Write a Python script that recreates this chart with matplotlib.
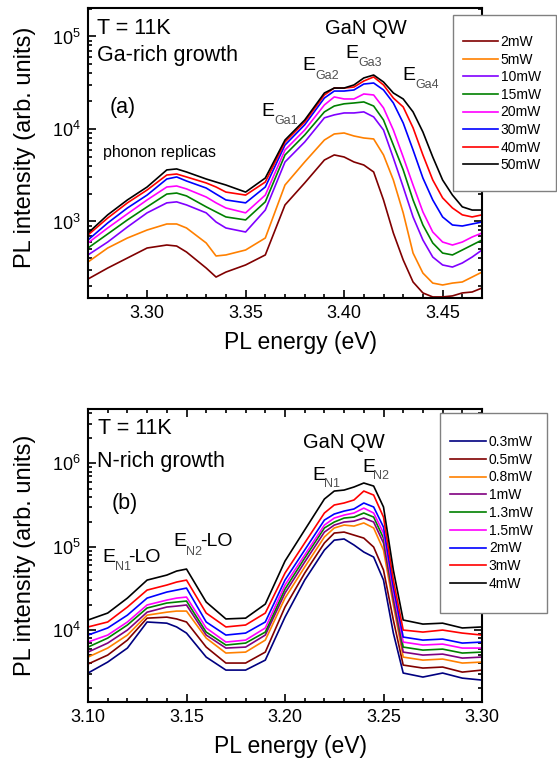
import matplotlib.pyplot as plt
from matplotlib.patches import Rectangle
from matplotlib.ticker import MultipleLocator, FormatStrFormatter, LogLocator, NullFormatter

plt.rcParams['font.family'] = ['Liberation Sans', 'DejaVu Sans']
plt.rcParams['mathtext.fontset'] = 'custom'
plt.rcParams['mathtext.rm'] = 'Liberation Sans'
plt.rcParams['mathtext.default'] = 'regular'

W, H = 557, 764

# ---------------- (a) Ga-rich growth ----------------
energy_a = [3.270, 3.280, 3.290, 3.300, 3.310, 3.315, 3.320, 3.330, 3.335, 3.340,
            3.350, 3.360, 3.370, 3.380, 3.390, 3.395, 3.400, 3.405, 3.410, 3.415,
            3.420, 3.425, 3.430, 3.435, 3.440, 3.445, 3.450, 3.455, 3.460, 3.465, 3.470]

ga_2mW = [239, 314, 403, 517, 557, 543, 468, 314, 251, 284, 339, 435, 1510, 2610, 4620, 5240,
          4980, 4400, 4080, 3430, 1710, 751, 384, 222, 169, 153, 153, 157, 169, 173, 191]
ga_5mW = [365, 517, 663, 809, 940, 940, 851, 586, 424, 435, 492, 663, 2480, 4400, 7600, 8830,
          9050, 8400, 7990, 7800, 5240, 2810, 1240, 456, 277, 216, 206, 216, 222, 251, 284]
ga_10mW = [435, 600, 872, 1240, 1590, 1630, 1510, 1240, 988, 851, 770, 1330, 4400, 7230, 13200, 14200,
           14900, 14900, 15300, 13500, 9750, 4860, 2360, 1120, 631, 413, 339, 322, 356, 413, 492]
ga_15mW = [517, 733, 1040, 1440, 1980, 2030, 1890, 1440, 1270, 1120, 1040, 1630, 5240, 8610, 15300, 17700,
           18700, 19100, 19600, 17700, 12500, 6710, 3610, 1710, 917, 586, 456, 435, 492, 557, 631]
ga_20mW = [586, 851, 1210, 1710, 2360, 2420, 2250, 1840, 1590, 1400, 1240, 1930, 5930, 9750, 18200, 22200,
           21100, 21100, 23900, 23300, 16900, 9750, 4980, 2480, 1270, 770, 600, 557, 600, 680, 751]
ga_30mW = [631, 964, 1400, 1930, 2880, 3030, 2740, 2300, 1980, 1710, 1590, 2360, 6710, 11100, 21600, 25700,
           25700, 26400, 30600, 31400, 26400, 19100, 11600, 5930, 2950, 1710, 1120, 917, 894, 940, 988]
ga_40mW = [715, 1090, 1590, 2190, 3180, 3260, 3030, 2610, 2360, 2080, 1930, 2670, 7230, 11900, 23300, 27700,
           27700, 28400, 33000, 36500, 29900, 21600, 17300, 10300, 5240, 2810, 1800, 1400, 1180, 1120, 1180]
ga_50mW = [750, 1180, 1710, 2360, 3610, 3700, 3430, 2880, 2670, 2480, 2080, 2950, 7600, 12500, 24500, 27700,
           27700, 29900, 35600, 38300, 32200, 24500, 21100, 15300, 9280, 4980, 2810, 1930, 1440, 1330, 1330]

labels_a = ["2mW", "5mW", "10mW", "15mW", "20mW", "30mW", "40mW", "50mW"]
series_a = [ga_2mW, ga_5mW, ga_10mW, ga_15mW, ga_20mW, ga_30mW, ga_40mW, ga_50mW]
colors_a = ["#800000", "#ff8000", "#8000ff", "#008000", "#ff00ff", "#0000ff", "#ff0000", "#000000"]

# ---------------- (b) N-rich growth ----------------
energy_b = [3.100, 3.110, 3.120, 3.130, 3.140, 3.145, 3.150, 3.160, 3.170, 3.180, 3.190, 3.200, 3.210,
            3.220, 3.225, 3.230, 3.235, 3.240, 3.245, 3.250, 3.255, 3.260, 3.270, 3.280, 3.290, 3.300]

n_03mW = [3.05e3, 4.13e3, 6.08e3, 1.25e4, 1.21e4, 1.09e4, 9.20e3, 4.74e3, 3.31e3, 3.31e3, 4.36e3, 1.43e4, 3.98e4,
          9.13e4, 1.20e5, 1.24e5, 1.05e5, 8.64e4, 7.52e4, 3.98e4, 9.20e3, 3.05e3, 2.73e3, 3.05e3, 2.65e3, 2.51e3]
n_05mW = [3.91e3, 5.01e3, 7.58e3, 1.39e4, 1.43e4, 1.36e4, 1.25e4, 6.25e3, 4.02e3, 4.02e3, 5.44e3, 1.89e4, 4.83e4,
          1.11e5, 1.46e5, 1.50e5, 1.38e5, 1.27e5, 9.92e4, 5.25e4, 1.32e4, 3.80e3, 3.50e3, 3.60e3, 3.13e3, 3.31e3]
n_08mW = [4.74e3, 6.08e3, 8.71e3, 1.51e4, 1.64e4, 1.69e4, 1.69e4, 8.01e3, 5.30e3, 5.44e3, 7.58e3, 2.42e4, 5.71e4,
          1.31e5, 1.68e5, 1.82e5, 1.77e5, 1.93e5, 1.68e5, 9.13e4, 2.00e4, 4.74e3, 4.36e3, 4.49e3, 4.02e3, 4.13e3]
n_1mW = [5.44e3, 6.98e3, 1.00e4, 1.64e4, 1.89e4, 1.94e4, 2.00e4, 8.71e3, 6.08e3, 6.25e3, 8.71e3, 2.78e4, 6.55e4,
         1.50e5, 1.82e5, 1.98e5, 2.03e5, 2.21e5, 1.98e5, 1.11e5, 2.29e4, 5.44e3, 5.01e3, 5.15e3, 4.61e3, 4.74e3]
n_13mW = [6.25e3, 8.01e3, 1.15e4, 1.84e4, 2.11e4, 2.17e4, 2.23e4, 9.46e3, 6.61e3, 6.98e3, 9.46e3, 3.10e4, 7.32e4,
          1.68e5, 1.98e5, 2.21e5, 2.27e5, 2.54e5, 2.27e5, 1.27e5, 2.63e4, 6.25e3, 5.75e3, 5.91e3, 5.30e3, 5.44e3]
n_15mW = [7.18e3, 8.71e3, 1.25e4, 2.00e4, 2.29e4, 2.42e4, 2.49e4, 1.06e4, 7.18e3, 7.58e3, 1.06e4, 3.47e4, 7.95e4,
          1.82e5, 2.21e5, 2.40e5, 2.54e5, 2.91e5, 2.54e5, 1.46e5, 2.86e4, 7.18e3, 6.61e3, 6.79e3, 6.08e3, 6.08e3]
n_2mW = [8.71e3, 1.06e4, 1.51e4, 2.42e4, 2.86e4, 3.02e4, 3.19e4, 1.25e4, 8.71e3, 9.20e3, 1.25e4, 3.98e4, 9.13e4,
         2.09e5, 2.47e5, 2.68e5, 2.84e5, 3.35e5, 3.00e5, 1.72e5, 3.28e4, 8.24e3, 7.58e3, 7.80e3, 6.98e3, 7.18e3]
n_3mW = [1.09e4, 1.25e4, 1.89e4, 3.02e4, 3.47e4, 3.77e4, 3.98e4, 1.60e4, 1.09e4, 1.15e4, 1.60e4, 4.83e4, 1.11e5,
         2.54e5, 3.17e5, 3.35e5, 3.64e5, 4.66e5, 4.17e5, 2.27e5, 3.98e4, 1.00e4, 9.46e3, 1.00e4, 9.20e3, 8.71e3]
n_4mW = [1.32e4, 1.60e4, 2.42e4, 3.98e4, 4.57e4, 5.11e4, 5.40e4, 2.17e4, 1.36e4, 1.39e4, 2.05e4, 6.73e4, 1.59e5,
         3.74e5, 4.66e5, 4.79e5, 5.21e5, 5.82e5, 5.35e5, 3.00e5, 5.25e4, 1.32e4, 1.18e4, 1.21e4, 1.06e4, 1.09e4]

labels_b = ["0.3mW", "0.5mW", "0.8mW", "1mW", "1.3mW", "1.5mW", "2mW", "3mW", "4mW"]
series_b = [n_03mW, n_05mW, n_08mW, n_1mW, n_13mW, n_15mW, n_2mW, n_3mW, n_4mW]
colors_b = ["#000080", "#800000", "#ff8000", "#800080", "#008000", "#ff00ff", "#0000ff", "#ff0000", "#000000"]


def px(x, y):
    # pixel position in the 557x764 picture -> figure fraction
    return x / W, 1 - y / H


def style_axes(ax, xmin, xmax, ymin, ymax, top_ticks):
    ax.set_yscale('log')
    ax.set_xlim(xmin, xmax)
    ax.set_ylim(ymin, ymax)
    ax.xaxis.set_major_locator(MultipleLocator(0.05))
    ax.xaxis.set_minor_locator(MultipleLocator(0.01))
    ax.xaxis.set_major_formatter(FormatStrFormatter('%.2f'))
    ax.yaxis.set_major_locator(LogLocator(base=10, numticks=10))
    ax.yaxis.set_minor_locator(LogLocator(base=10, subs=range(2, 10), numticks=20))
    ax.yaxis.set_minor_formatter(NullFormatter())
    ax.tick_params(which='both', direction='in', right=True, top=top_ticks, width=1.2)
    ax.tick_params(which='major', length=6, labelsize=13, pad=5)
    ax.tick_params(which='minor', length=3)
    for s in ax.spines.values():
        s.set_linewidth(1.5)


def sub_label(fig, xe, ye, sub, xs, ys, tail=None, xt=None):
    fig.text(*px(xe, ye), "E", fontsize=14, ha='left', va='center')
    fig.text(*px(xs, ys), sub, fontsize=9, color='#505050', ha='left', va='center')
    if tail:
        fig.text(*px(xt, ye), tail, fontsize=14, ha='left', va='center')


fig = plt.figure(figsize=(W / 100, H / 100), dpi=100)

# ---- panel (a)
ax1 = fig.add_axes([88 / W, 1 - 298 / H, 394 / W, 290 / H])
lines_a = []
for lab, d, c in zip(labels_a, series_a, colors_a):
    ln, = ax1.plot(energy_a, d, color=c, lw=1.2, label=lab)
    lines_a.append(ln)
style_axes(ax1, 3.27, 3.47, 149, 2.03e5, False)

fig.text(*px(300, 343), "PL energy (eV)", fontsize=16.5, ha='center', va='center')
fig.text(*px(25, 147), "PL intensity (arb. units)", fontsize=17, rotation=90, ha='center', va='center')

fig.text(*px(97, 28), "T = 11K", fontsize=15.5, ha='left', va='center')
fig.text(*px(97, 56), "Ga-rich growth", fontsize=15.5, ha='left', va='center')
fig.text(*px(110, 107), "(a)", fontsize=15.5, ha='left', va='center')
fig.text(*px(103, 153), "phonon replicas", fontsize=11.5, ha='left', va='center')
fig.text(*px(325, 28), "GaN QW", fontsize=14.5, ha='left', va='center')
sub_label(fig, 261, 112, "Ga1", 274, 121)
sub_label(fig, 302, 66, "Ga2", 315, 76)
sub_label(fig, 345, 53, "Ga3", 358, 63)
sub_label(fig, 402, 75, "Ga4", 415, 85)

fig.patches.append(Rectangle(px(453, 191), 103 / W, 176 / H, transform=fig.transFigure,
                             facecolor='white', edgecolor='#808080', lw=1, zorder=2))
fig.legend(handles=lines_a, loc='upper left', bbox_to_anchor=px(463, 35), bbox_transform=fig.transFigure,
           frameon=False, borderpad=0, borderaxespad=0, handlelength=2.5, handletextpad=0.2,
           labelspacing=0.26, fontsize=10)

# ---- panel (b)
ax2 = fig.add_axes([88 / W, 1 - 702 / H, 394 / W, 293 / H])
lines_b = []
for lab, d, c in zip(labels_b, series_b, colors_b):
    ln, = ax2.plot(energy_b, d, color=c, lw=1.2, label=lab)
    lines_b.append(ln)
style_axes(ax2, 3.10, 3.30, 1.37e3, 4.5e6, True)

fig.text(*px(290, 746), "PL energy (eV)", fontsize=16.5, ha='center', va='center')
fig.text(*px(25, 555), "PL intensity (arb. units)", fontsize=17, rotation=90, ha='center', va='center')

fig.text(*px(98, 428), "T = 11K", fontsize=15.5, ha='left', va='center')
fig.text(*px(97, 462), "N-rich growth", fontsize=15.5, ha='left', va='center')
fig.text(*px(112, 503), "(b)", fontsize=15.5, ha='left', va='center')
fig.text(*px(303, 442), "GaN QW", fontsize=14.5, ha='left', va='center')
sub_label(fig, 102, 558, "N1", 115, 567, "-LO", 128)
sub_label(fig, 173, 542, "N2", 186, 552, "-LO", 200)
sub_label(fig, 312, 475, "N1", 324, 484)
sub_label(fig, 362, 467, "N2", 373, 476)

fig.patches.append(Rectangle(px(440, 613), 107 / W, 200 / H, transform=fig.transFigure,
                             facecolor='white', edgecolor='#808080', lw=1, zorder=2))
fig.legend(handles=lines_b, loc='upper left', bbox_to_anchor=px(450, 435), bbox_transform=fig.transFigure,
           frameon=False, borderpad=0, borderaxespad=0, handlelength=2.6, handletextpad=0.2,
           labelspacing=0.27, fontsize=10)

plt.savefig("out.png", dpi=100)
